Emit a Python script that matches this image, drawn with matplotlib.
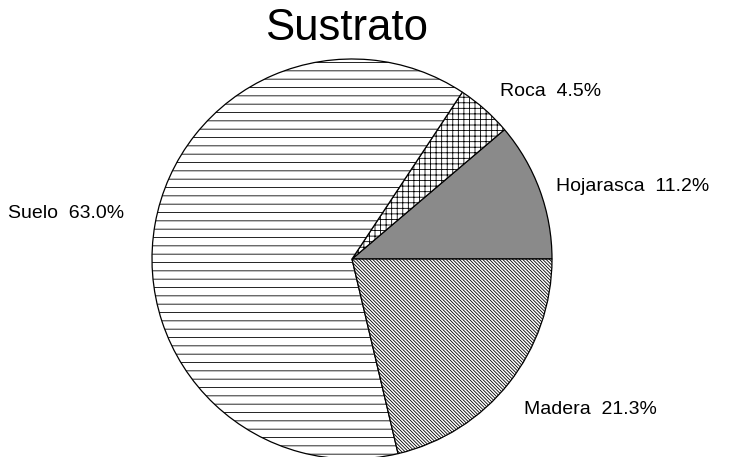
import matplotlib
matplotlib.use("Agg")
import matplotlib.pyplot as plt

categories = ["Hojarasca", "Roca", "Suelo", "Madera"]
values = [11.2, 4.5, 63.0, 21.3]
label_texts = ["Hojarasca  11.2%", "Roca  4.5%", "Suelo  63.0%", "Madera  21.3%"]

plt.rcParams['font.family'] = ['Liberation Sans', 'DejaVu Sans']
plt.rcParams['hatch.linewidth'] = 0.6

W, H = 729, 457
fig = plt.figure(figsize=(W / 100, H / 100), dpi=100)
cx, cy, r = 352, 457 - 259, 200
ax = fig.add_axes([(cx - r) / W, (cy - r) / H, 2 * r / W, 2 * r / H])

BS = chr(92)
faces = ['#8a8a8a', 'white', 'white', 'white']
hatches = [None, '+++', '--', BS * 10]
wedges, _ = ax.pie(values, startangle=0, counterclock=True, radius=1,
                   colors=faces, wedgeprops=dict(edgecolor='black', linewidth=0.9))
for w, h in zip(wedges, hatches):
    if h:
        w.set_hatch(h)
    w.set_clip_on(False)
ax.set_xlim(-1, 1)
ax.set_ylim(-1, 1)
ax.set_aspect('equal')
ax.axis('off')

pos = [(556, 186), (500, 91), (8, 213), (524, 410)]
for (px, py), t in zip(pos, label_texts):
    fig.text(px / W, 1 - py / H, t, fontsize=14, ha='left', va='center')

fig.text(347 / W, 1 - 29 / H, "Sustrato", fontsize=31.5, ha='center', va='center')

fig.savefig("out.png", dpi=100)
